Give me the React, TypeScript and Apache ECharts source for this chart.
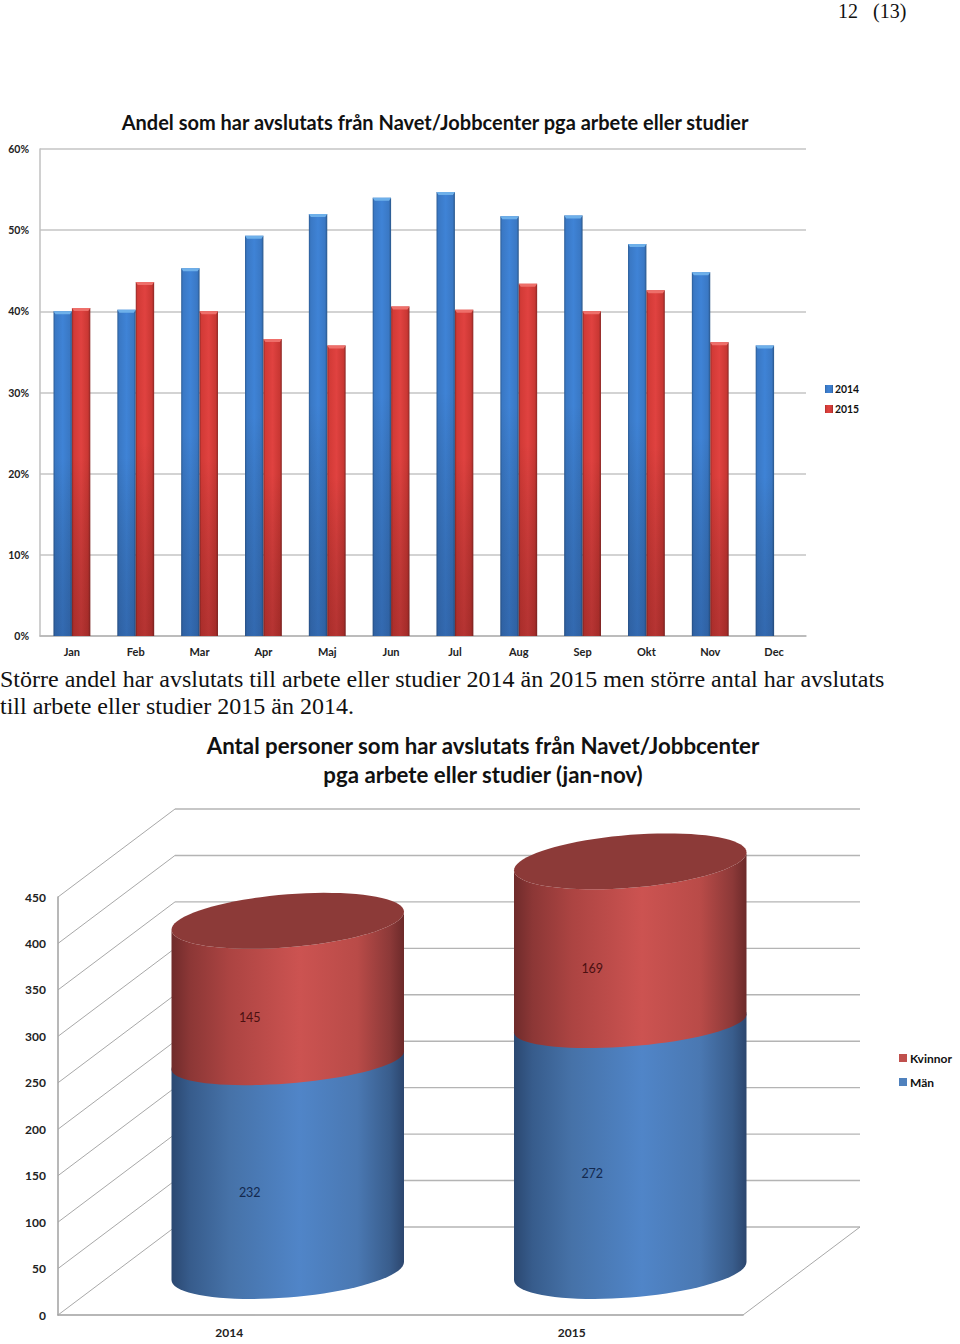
import React, { useEffect, useRef } from "react";
import * as echarts from "echarts";

const months = ["Jan", "Feb", "Mar", "Apr", "Maj", "Jun", "Jul", "Aug", "Sep", "Okt", "Nov", "Dec"];
const share2014 = [40.0, 40.2, 45.3, 49.3, 52.0, 54.0, 54.7, 51.7, 51.8, 48.3, 44.8, 35.8];
const share2015: (number | null)[] = [40.4, 43.6, 40.0, 36.6, 35.8, 40.6, 40.2, 43.4, 40.0, 42.6, 36.2, null];
const years = ["2014", "2015"];
const men = [232, 272];
const women = [145, 169];
const wallTicks = [0, 50, 100, 150, 200, 250, 300, 350, 400, 450];

const LATO = "Lato";
const SERIF = "'Liberation Serif'";
const grad = (stops: [number, string][], x2 = 1, y2 = 0) =>
  new echarts.graphic.LinearGradient(0, 0, x2, y2, stops.map(([offset, color]) => ({ offset, color })));

const BAR_W = 18.4;
const blueBar = grad([[0, "#2b5b94"], [0.1, "#3a78c4"], [0.5, "#3f83d6"], [0.88, "#3a78c4"], [1, "#2a5688"]]);
const redBar = grad([[0, "#8f2a28"], [0.1, "#d23a36"], [0.5, "#e04240"], [0.88, "#c93733"], [1, "#8a2826"]]);

const bevel = (values: (number | null)[], capColor: string, shade: string, first: boolean) => ({
  type: "custom",
  name: first ? "bevel2014" : "bevel2015",
  xAxisIndex: 0,
  yAxisIndex: 0,
  silent: true,
  z: 5,
  data: values.map((v, i) => (v == null ? null : [i, v])).filter(Boolean),
  encode: { x: 0, y: 1 },
  renderItem: (_p: any, api: any) => {
    const top = api.coord([api.value(0), api.value(1)]);
    const bot = api.coord([api.value(0), 0]);
    const x0 = first ? top[0] - BAR_W : top[0];
    return {
      type: "group",
      children: [
        {
          type: "rect",
          shape: { x: x0, y: top[1], width: BAR_W, height: bot[1] - top[1] },
          style: { fill: grad([[0, "rgba(0,0,0,0)"], [0.45, "rgba(0,0,0,0)"], [1, shade]], 0, 1) },
        },
        {
          type: "polygon",
          shape: { points: [[x0, top[1]], [x0 + BAR_W, top[1]], [x0 + BAR_W - 2, top[1] + 3], [x0 + 2, top[1] + 3]] },
          style: { fill: capColor },
        },
      ],
    };
  },
});

const RX = 116.25, RY = 26.5, TILT = 9;
const DEPTH_X = 117, DEPTH_Y = 88;
const arc = (cx: number, cy: number, ry: number, from: number, to: number, n = 40) => {
  const pts: number[][] = [];
  for (let i = 0; i <= n; i++) {
    const t = from + ((to - from) * i) / n;
    pts.push([cx + RX * Math.cos(t), cy + ry * Math.sin(t) - TILT * Math.cos(t)]);
  }
  return pts;
};
const centre = (api: any, value: number) => {
  const p = api.coord([api.value(0), value]);
  return [p[0] + DEPTH_X / 2, p[1] - DEPTH_Y / 2];
};
const SEAM_DROP = 5, SEAM_RY = 23;

const blueCyl = grad([[0, "#2b4871"], [0.08, "#375c8c"], [0.25, "#4672a8"], [0.55, "#5085c8"], [0.8, "#4a78b2"], [0.94, "#395d8c"], [1, "#2c466e"]]);
const redCyl = grad([[0, "#6f2b2b"], [0.08, "#8c3736"], [0.25, "#ac4442"], [0.55, "#cc5351"], [0.8, "#b94b48"], [0.94, "#8c3938"], [1, "#6c2a2a"]]);

function App() {
  const ref = useRef<HTMLDivElement>(null);
  useEffect(() => {
    const chart = echarts.init(ref.current!, null, { renderer: "svg" });
    chart.setOption({
      animation: false,
      backgroundColor: "#fff",
      title: [
        { text: "12\u00a0\u00a0\u00a0(13)", left: 838, top: 1, padding: 0, textStyle: { fontFamily: SERIF, fontSize: 20, fontWeight: "normal", color: "#111" } },
        { text: "Andel som har avslutats från Navet/Jobbcenter pga arbete eller studier", left: 435, top: 112, padding: 0, textAlign: "center", textStyle: { fontFamily: LATO, fontSize: 20, fontWeight: "bold", color: "#111" } },
        { text: "Större andel har avslutats till arbete eller studier 2014 än 2015 men större antal har avslutats\ntill arbete eller studier 2015 än 2014.", left: 0, top: 665, padding: 0, textStyle: { fontFamily: SERIF, fontSize: 24, lineHeight: 27, fontWeight: "normal", color: "#111" } },
        { text: "Antal personer som har avslutats från Navet/Jobbcenter\npga arbete eller studier (jan-nov)", left: 483, top: 731, padding: 0, textAlign: "center", textStyle: { fontFamily: LATO, fontSize: 22.25, lineHeight: 29, fontWeight: "bold", color: "#111" } },
      ],
      legend: [
        { orient: "vertical", left: 820, top: 379, itemWidth: 8, itemHeight: 8, itemGap: 10, icon: "rect", data: ["2014", "2015"], textStyle: { fontFamily: LATO, fontSize: 10.4, fontWeight: "bold", color: "#111", padding: [0, 0, 0, -3] } },
        { orient: "vertical", left: 894, top: 1047, itemWidth: 8, itemHeight: 8, itemGap: 12, icon: "rect", data: ["Kvinnor", "Män"], textStyle: { fontFamily: LATO, fontSize: 12, fontWeight: "bold", color: "#111", padding: [0, 0, 0, -2] } },
      ],
      grid: [
        { left: 40, top: 149, width: 766, height: 487 },
        { left: 58, top: 897, width: 685, height: 418 },
      ],
      xAxis: [
        { type: "category", gridIndex: 0, data: months, axisTick: { show: false }, axisLine: { lineStyle: { color: "#b5b5b5", width: 1.5 } }, axisLabel: { margin: 10, fontFamily: LATO, fontSize: 11, fontWeight: "bold", color: "#222" } },
        { type: "category", gridIndex: 1, data: years, axisTick: { show: false }, axisLine: { lineStyle: { color: "#a0a0a0", width: 1.5 } }, axisLabel: { margin: 11, fontFamily: LATO, fontSize: 12, fontWeight: "bold", color: "#222" } },
      ],
      yAxis: [
        { type: "value", gridIndex: 0, min: 0, max: 60, interval: 10, axisLabel: { formatter: "{value}%", margin: 11, fontFamily: LATO, fontSize: 10.5, fontWeight: "bold", color: "#222" }, axisLine: { show: true, lineStyle: { color: "#c0c0c0", width: 1.5 } }, axisTick: { show: false }, splitLine: { lineStyle: { color: "#c4c4c4", width: 1.5 } } },
        { type: "value", gridIndex: 1, min: 0, max: 450, interval: 50, axisLabel: { margin: 12, fontFamily: LATO, fontSize: 12, fontWeight: "bold", color: "#222" }, axisLine: { show: true, lineStyle: { color: "#a0a0a0", width: 1.5 } }, axisTick: { show: false }, splitLine: { show: false } },
      ],
      series: [
        { type: "bar", name: "2014", xAxisIndex: 0, yAxisIndex: 0, data: share2014, barWidth: BAR_W, barGap: "0%", itemStyle: { color: blueBar } },
        { type: "bar", name: "2015", xAxisIndex: 0, yAxisIndex: 0, data: share2015, barWidth: BAR_W, barGap: "0%", itemStyle: { color: redBar } },
        bevel(share2014, "#6eb0ea", "rgba(20,40,80,0.28)", true),
        bevel(share2015, "#ee6f6a", "rgba(70,15,15,0.28)", false),
        {
          type: "custom",
          name: "walls",
          xAxisIndex: 1,
          yAxisIndex: 1,
          silent: true,
          z: 1,
          data: wallTicks.map((v) => [0, v]),
          encode: { x: 0, y: 1 },
          renderItem: (params: any, api: any) => {
            const y = api.coord([0, api.value(1)])[1];
            const g = params.coordSys;
            const children: any[] = [
              { type: "line", shape: { x1: g.x, y1: y, x2: g.x + DEPTH_X, y2: y - DEPTH_Y }, style: { stroke: "#a8a8a8", lineWidth: 1 } },
              { type: "line", shape: { x1: g.x + DEPTH_X, y1: y - DEPTH_Y, x2: g.x + g.width + DEPTH_X, y2: y - DEPTH_Y }, style: { stroke: "#b4b4b4", lineWidth: 1.4 } },
            ];
            if (api.value(1) === 0) {
              children.push({ type: "line", shape: { x1: g.x + g.width, y1: y, x2: g.x + g.width + DEPTH_X, y2: y - DEPTH_Y }, style: { stroke: "#a8a8a8", lineWidth: 1 } });
            }
            return { type: "group", children };
          },
        },
        {
          type: "custom",
          name: "Män",
          xAxisIndex: 1,
          yAxisIndex: 1,
          z: 3,
          itemStyle: { color: "#4f81bd" },
          data: men.map((v, i) => [i, v]),
          encode: { x: 0, y: 1 },
          renderItem: (_p: any, api: any) => {
            const v = api.value(1);
            const [cx, cy0] = centre(api, 0);
            const [, cyT] = centre(api, v);
            const seam = cyT + SEAM_DROP;
            const pts = [...arc(cx, cy0, RY, Math.PI, 0), ...arc(cx, seam, RY, 0, -Math.PI)];
            return {
              type: "group",
              children: [
                { type: "polygon", shape: { points: pts }, style: { fill: blueCyl } },
                { type: "text", x: cx - 38, y: (cy0 + cyT) / 2 + 29, style: { text: String(v), fontFamily: LATO, fontSize: 12.5, fill: "#13294f", align: "center", verticalAlign: "middle" } },
              ],
            };
          },
        },
        {
          type: "custom",
          name: "Kvinnor",
          xAxisIndex: 1,
          yAxisIndex: 1,
          z: 4,
          itemStyle: { color: "#c0504d" },
          data: women.map((v, i) => [i, v]),
          encode: { x: 0, y: 1 },
          renderItem: (p: any, api: any) => {
            const base = men[p.dataIndex];
            const v = api.value(1);
            const [cx, cyB] = centre(api, base);
            const [, cyT] = centre(api, base + v);
            const seam = cyB + SEAM_DROP;
            const side = [...arc(cx, seam, SEAM_RY, Math.PI, 0), ...arc(cx, cyT, RY, 0, Math.PI)];
            const top = arc(cx, cyT, RY, 0, Math.PI * 2, 80);
            return {
              type: "group",
              children: [
                { type: "polygon", shape: { points: side }, style: { fill: redCyl } },
                { type: "polygon", shape: { points: top }, style: { fill: "#8c3a38" } },
                { type: "text", x: cx - 38, y: (cyB + cyT) / 2 + 29, style: { text: String(v), fontFamily: LATO, fontSize: 12.5, fill: "#4a1010", align: "center", verticalAlign: "middle" } },
              ],
            };
          },
        },
      ],
    });
    return () => chart.dispose();
  }, []);
  return <div ref={ref} style={{ position: "absolute", left: 0, top: 0, width: 960, height: 1344 }} />;
}

export default App;
